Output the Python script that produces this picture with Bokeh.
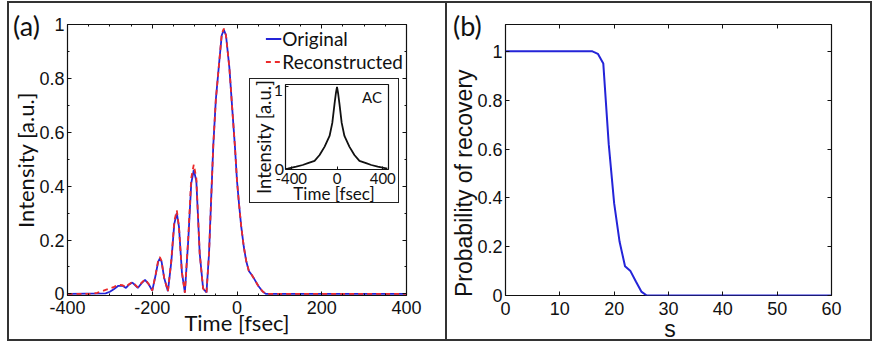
from bokeh.plotting import figure
from bokeh.models import (Range1d, LinearAxis, FixedTicker, Legend, LegendItem,
                          PrintfTickFormatter, Div)
from bokeh.layouts import row, column
from bokeh.embed import file_html
from bokeh.resources import INLINE

# ---------------- data ----------------
# Panel (a): retrieved pulse intensity
time_orig = [-400, -310, -300, -290, -280, -270, -262, -255, -247, -240, -234, -225, -217, -208,
             -200, -192, -186, -182, -178, -172, -163, -155, -148, -142, -137, -130, -123, -115,
             -108, -102, -96, -88, -80, -72, -66, -61, -56, -50, -42, -36, -31, -26, -18, -10,
             -5, 0, 5, 10, 16, 22, 28, 35, 42, 50, 60, 68, 400]
int_orig = [0.0, 0.002, 0.008, 0.018, 0.03, 0.03, 0.022, 0.034, 0.042, 0.032, 0.022, 0.04, 0.052,
            0.035, 0.012, 0.07, 0.12, 0.132, 0.12, 0.06, 0.01, 0.12, 0.26, 0.30, 0.25, 0.08, 0.005,
            0.2, 0.41, 0.46, 0.42, 0.15, 0.02, 0.005, 0.15, 0.35, 0.55, 0.72, 0.86, 0.96, 0.98,
            0.96, 0.84, 0.66, 0.55, 0.42, 0.33, 0.25, 0.175, 0.12, 0.085, 0.07, 0.052, 0.03, 0.01,
            0.0, 0.0]
time_rec = [-400, -340, -330, -315, -300, -290, -280, -270, -262, -255, -247, -240, -234, -225,
            -217, -208, -200, -192, -186, -182, -178, -172, -163, -155, -148, -142, -137, -130,
            -123, -115, -108, -102, -96, -88, -80, -72, -66, -61, -56, -50, -42, -36, -31, -26,
            -18, -10, -5, 0, 5, 10, 16, 22, 28, 35, 42, 50, 60, 68, 400]
int_rec = [0.0, 0.0, 0.004, 0.012, 0.02, 0.026, 0.034, 0.032, 0.025, 0.036, 0.044, 0.033, 0.024,
           0.042, 0.054, 0.036, 0.012, 0.072, 0.125, 0.137, 0.122, 0.06, 0.01, 0.125, 0.27, 0.31,
           0.25, 0.08, 0.004, 0.21, 0.43, 0.48, 0.43, 0.15, 0.02, 0.004, 0.15, 0.35, 0.55, 0.72,
           0.86, 0.965, 0.985, 0.96, 0.84, 0.66, 0.55, 0.42, 0.33, 0.25, 0.175, 0.12, 0.085, 0.07,
           0.052, 0.03, 0.01, 0.0, 0.0]

# Inset: autocorrelation
ac_time = [-430, -356, -300, -254, -196, -152, -108, -65, -41, -21, -10, 0, 10, 21, 41, 65,
           108, 152, 196, 254, 300, 356, 440]
ac_int = [0.0, 0.024, 0.045, 0.067, 0.095, 0.167, 0.27, 0.40, 0.56, 0.80, 0.92, 1.0, 0.92, 0.80,
          0.56, 0.40, 0.27, 0.167, 0.095, 0.067, 0.045, 0.024, 0.0]

# Panel (b): probability of recovery vs s
s_vals = [0, 5, 10, 15, 16, 17, 18, 19, 20, 21, 22, 23, 24, 25, 26, 30, 40, 50, 60]
prob_vals = [1.0, 1.0, 1.0, 1.0, 1.0, 0.99, 0.95, 0.62, 0.377, 0.22, 0.12, 0.10, 0.057, 0.016,
             0.0, 0.0, 0.0, 0.0, 0.0]

# ticks and labels
x_ticks_a = [-400, -200, 0, 200, 400]
x_minor_a = [-350, -300, -250, -150, -100, -50, 50, 100, 150, 250, 300, 350]
y_ticks = [0, 0.2, 0.4, 0.6, 0.8, 1]
y_minor_a = [0.1, 0.3, 0.5, 0.7, 0.9]
x_ticks_b = [0, 10, 20, 30, 40, 50, 60]
x_ticks_inset = [-400, 0, 400]
y_ticks_inset = [0, 1]
hyphen_labels = {-400: "-400", -200: "-200"}

BLUE = "#2424d8"
RED = "#ec2a2a"
BLACK = "#111111"
TICK_FONT = "Liberation Sans"
TEXT_FONT = "Lato"


def style_axis(ax, font, size, lab_font, lab_size, tick_standoff, lab_standoff,
               tick_in=4, minor_in=0):
    ax.axis_line_color = None
    ax.major_tick_in = tick_in
    ax.major_tick_out = 0
    ax.minor_tick_in = minor_in
    ax.minor_tick_out = 0
    ax.major_tick_line_color = BLACK
    ax.minor_tick_line_color = BLACK
    ax.major_label_text_font = font
    ax.major_label_text_font_size = size
    ax.major_label_text_color = BLACK
    ax.major_label_standoff = tick_standoff
    ax.axis_label_text_font = lab_font
    ax.axis_label_text_font_size = lab_size
    ax.axis_label_text_font_style = "normal"
    ax.axis_label_text_color = BLACK
    ax.axis_label_standoff = lab_standoff


def hide_labels(ax):
    ax.major_label_text_font_size = "0px"
    ax.major_label_text_color = None
    ax.major_label_standoff = 0


def mirror(p, ticker, place, minor_in=0):
    ax = LinearAxis(ticker=ticker, axis_label=None)
    ax.axis_line_color = None
    hide_labels(ax)
    ax.major_tick_in = 4
    ax.major_tick_out = 0
    ax.minor_tick_in = minor_in
    ax.minor_tick_out = 0
    ax.major_tick_line_color = BLACK
    ax.minor_tick_line_color = BLACK
    p.add_layout(ax, place)


# ---------------- panel (a) ----------------
pa = figure(width=438, height=336, x_range=Range1d(-400, 400), y_range=Range1d(-0.006, 1.0),
            min_border_left=51, min_border_right=41, min_border_top=21, min_border_bottom=44,
            output_backend="svg", toolbar_location=None, title=None,
            styles={"border-right": "2px solid #333333"})
pa.grid.visible = False
pa.outline_line_color = BLACK
pa.outline_line_width = 1.2
pa.xaxis.ticker = FixedTicker(ticks=x_ticks_a, minor_ticks=x_minor_a)
pa.xaxis.major_label_overrides = hyphen_labels
pa.yaxis.ticker = FixedTicker(ticks=y_ticks, minor_ticks=y_minor_a)
pa.yaxis.formatter = PrintfTickFormatter(format="%g")
pa.xaxis.axis_label = "Time [fsec]"
pa.yaxis.axis_label = "Intensity [a.u.]"
style_axis(pa.xaxis[0], TICK_FONT, "18px", TEXT_FONT, "22px", 5, -8, minor_in=2)
style_axis(pa.yaxis[0], TICK_FONT, "18px", TEXT_FONT, "22px", 3, -3, minor_in=2)
mirror(pa, FixedTicker(ticks=x_ticks_a, minor_ticks=x_minor_a), "above", minor_in=2)
mirror(pa, FixedTicker(ticks=y_ticks, minor_ticks=y_minor_a), "right", minor_in=2)

r_orig = pa.line(time_orig, int_orig, line_color=BLUE, line_width=1.8)
r_rec = pa.line(time_rec, int_rec, line_color=RED, line_width=1.8, line_dash="5 4")

legend = Legend(items=[LegendItem(label="Original", renderers=[r_orig]),
                       LegendItem(label="Reconstructed", renderers=[r_rec])],
                location="top_right")
legend.label_text_font = TEXT_FONT
legend.label_text_font_size = "19px"
legend.label_text_color = BLACK
legend.glyph_width = 16
legend.glyph_height = 19
legend.label_height = 19
legend.label_standoff = 1
legend.spacing = 0
legend.padding = 0
legend.margin = 3
legend.background_fill_alpha = 0
legend.border_line_alpha = 0
pa.add_layout(legend)

# ---------------- panel (b) ----------------
pb = figure(width=423, height=336, x_range=Range1d(0, 60), y_range=Range1d(0, 1.11),
            min_border_left=58, min_border_right=39, min_border_top=21, min_border_bottom=43,
            output_backend="svg", toolbar_location=None, title=None)
pb.grid.visible = False
pb.outline_line_color = BLACK
pb.outline_line_width = 1.2
pb.xaxis.ticker = FixedTicker(ticks=x_ticks_b)
pb.yaxis.ticker = FixedTicker(ticks=y_ticks)
pb.yaxis.formatter = PrintfTickFormatter(format="%g")
pb.xaxis.axis_label = None
pb.yaxis.axis_label = None
style_axis(pb.xaxis[0], TICK_FONT, "18px", TICK_FONT, "23px", 6, 0)
style_axis(pb.yaxis[0], TICK_FONT, "18px", TICK_FONT, "23px", 3, 0)
mirror(pb, FixedTicker(ticks=x_ticks_b), "above")
mirror(pb, FixedTicker(ticks=y_ticks), "right")

pb.line(s_vals, prob_vals, line_color=BLUE, line_width=2)

# ---------------- inset (AC) ----------------
pi = figure(width=148, height=123,
            x_range=Range1d(-450, 450), y_range=Range1d(-0.01, 1.03),
            min_border_left=35, min_border_right=10, min_border_top=5, min_border_bottom=33,
            output_backend="svg", toolbar_location=None, title=None)
pi.grid.visible = False
pi.outline_line_color = BLACK
pi.outline_line_width = 1.2
pi.xaxis.ticker = FixedTicker(ticks=x_ticks_inset)
pi.xaxis.major_label_overrides = {-400: "-400"}
pi.yaxis.ticker = FixedTicker(ticks=y_ticks_inset)
pi.xaxis.axis_label = None
pi.yaxis.axis_label = None
style_axis(pi.xaxis[0], TEXT_FONT, "15px", TEXT_FONT, "17px", 3, 0, tick_in=3)
style_axis(pi.yaxis[0], TEXT_FONT, "15px", TEXT_FONT, "17px", 3, 0, tick_in=3)
hide_labels(pi.yaxis[0])   # the two y tick labels are placed as texts below
pi.line(ac_time, ac_int, line_color=BLACK, line_width=1.8)

# the inset sits in its own boxed container, laid over panel (a)
inset_box = column(pi, styles={"position": "absolute", "left": "240px", "top": "75px",
                               "border": "1.5px solid #222222", "background": "white"})


# ---------------- free texts (panel tags, labels placed like the original) ----------------
def tag(text, left, top, size, font=TEXT_FONT, extra=None, width=40, height=30, align="left"):
    st = {"position": "absolute", "left": f"{left}px", "top": f"{top}px",
          "font-family": font, "font-size": size, "line-height": "1",
          "color": BLACK, "white-space": "nowrap", "text-align": align}
    if extra:
        st.update(extra)
    return Div(text=text, width=width, height=height, margin=(0, 0, 0, 0), styles=st)


ROT = {"transform": "rotate(-90deg)", "transform-origin": "0 0"}

tag_a = tag("(a)", 4, 9, "27px")
tag_b = tag("(b)", 444, 9, "27px")
inset_ylab = tag("Intensity [a.u.]", 246, 191, "18.5px", extra=ROT, width=118, height=24)
inset_xlab = tag("Time [fsec]", 275, 182, "17px", width=100, height=22, align="center")
inset_ac = tag("AC", 343, 87, "15px", width=30, height=18, align="right")
inset_y1 = tag(str(y_ticks_inset[1]), 254, 79, "16px", width=20, height=18, align="right")
inset_y0 = tag(str(y_ticks_inset[0]), 255, 158, "16px", width=20, height=18, align="right")
b_ylab = tag("Probability of recovery", 444, 294, "23px", font=TICK_FONT, extra=ROT,
             width=245, height=27)
b_xlab = tag("s", 646, 315, "23px", font=TICK_FONT, width=30, height=26, align="center")

layout = row(pa, pb, inset_box, tag_a, tag_b, inset_ylab, inset_xlab, inset_ac, inset_y1,
             inset_y0, b_ylab, b_xlab,
             styles={"border": "2px solid #333333", "position": "relative",
                     "margin-left": "7px", "margin-top": "1px"})

open("out.html", "w").write(file_html(layout, INLINE))
